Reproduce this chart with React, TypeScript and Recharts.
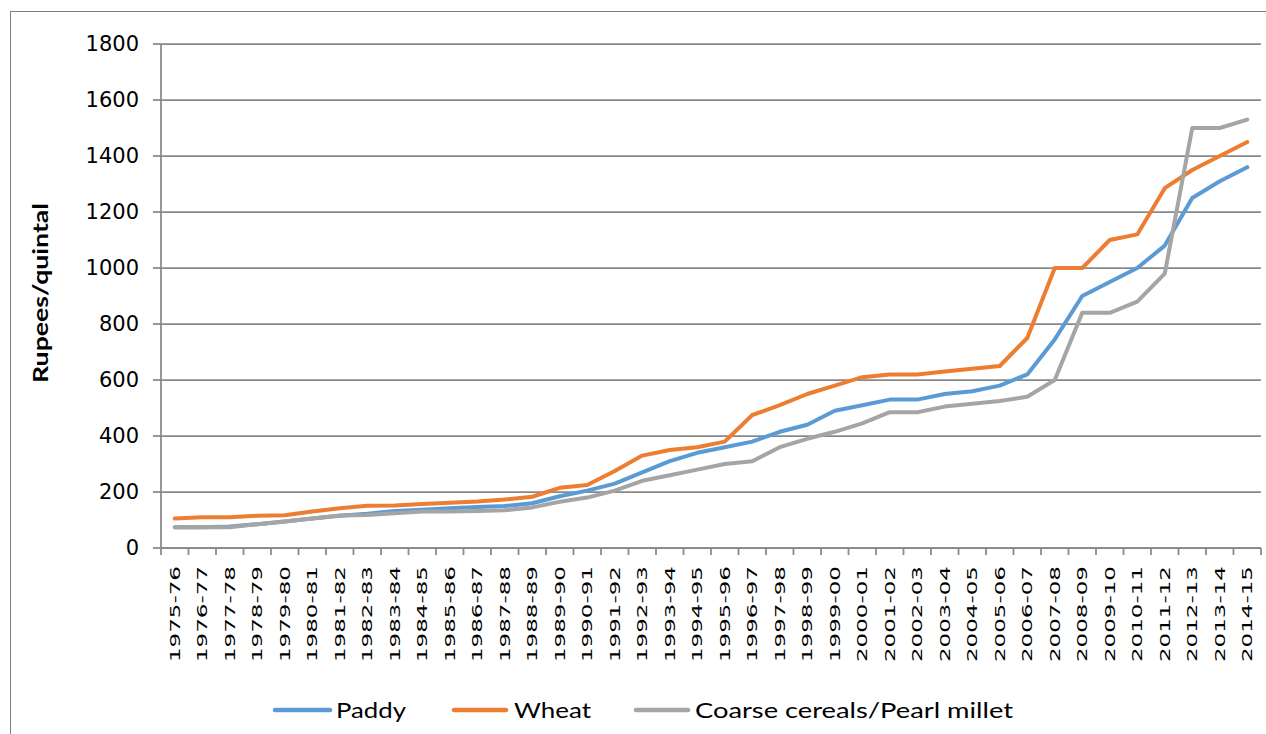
import React from "react";
import { LineChart, Line, XAxis, YAxis, CartesianGrid, Legend } from "recharts";

const categories = [
  "1975-76", "1976-77", "1977-78", "1978-79", "1979-80", "1980-81", "1981-82", "1982-83",
  "1983-84", "1984-85", "1985-86", "1986-87", "1987-88", "1988-89", "1989-90", "1990-91",
  "1991-92", "1992-93", "1993-94", "1994-95", "1995-96", "1996-97", "1997-98", "1998-99",
  "1999-00", "2000-01", "2001-02", "2002-03", "2003-04", "2004-05", "2005-06", "2006-07",
  "2007-08", "2008-09", "2009-10", "2010-11", "2011-12", "2012-13", "2013-14", "2014-15",
];

const paddy = [
  74, 74, 77, 85, 95, 105, 115, 122, 132, 137, 142, 146, 150, 160, 185, 205,
  230, 270, 310, 340, 360, 380, 415, 440, 490, 510, 530, 530, 550, 560, 580, 620,
  745, 900, 950, 1000, 1080, 1250, 1310, 1360,
];

const wheat = [
  105, 110, 110, 115, 117, 130, 142, 151, 152, 157, 162, 166, 173, 183, 215, 225,
  275, 330, 350, 360, 380, 475, 510, 550, 580, 610, 620, 620, 630, 640, 650, 750,
  1000, 1000, 1100, 1120, 1285, 1350, 1400, 1450,
];

const coarse = [
  74, 74, 74, 85, 95, 105, 116, 118, 124, 130, 130, 132, 135, 145, 165, 180,
  205, 240, 260, 280, 300, 310, 360, 390, 415, 445, 485, 485, 505, 515, 525, 540,
  600, 840, 840, 880, 980, 1500, 1500, 1530,
];

const yTicks = [0, 200, 400, 600, 800, 1000, 1200, 1400, 1600, 1800];

const seriesKeys = ["paddy", "wheat", "coarse"];
const seriesNames = ["Paddy", "Wheat", "Coarse cereals/Pearl millet"];
const seriesColors = ["#5B9BD5", "#ED7D31", "#A5A5A5"];

const data = categories.map((c, i) => ({
  year: c,
  paddy: paddy[i],
  wheat: wheat[i],
  coarse: coarse[i],
}));

const GRID = "#888888";

// legend layout (pixel styling only)
const legendLayout = [
  { lineX: 273, lineLen: 59, textX: 336, textLen: 70 },
  { lineX: 452, lineLen: 56, textX: 514, textLen: 77 },
  { lineX: 634, lineLen: 56, textX: 695, textLen: 318 },
];

const XTick = (props: any) => {
  const { x, y, payload, index, width, visibleTicksCount } = props;
  const half =
    payload && typeof payload.offset === "number" && payload.offset > 0
      ? payload.offset
      : width / visibleTicksCount / 2;
  return (
    <g>
      <line x1={x - half} y1={y} x2={x - half} y2={y + 7} stroke={GRID} strokeWidth={1.75} />
      {index === visibleTicksCount - 1 ? (
        <line x1={x + half} y1={y} x2={x + half} y2={y + 7} stroke={GRID} strokeWidth={1.75} />
      ) : null}
      <text
        transform={`translate(${x}, ${y + 18}) rotate(-90)`}
        textAnchor="end"
        dy="0.36em"
        fontFamily="DejaVu Sans"
        fontSize={14.5}
        fill="#000"
        textLength={96}
        lengthAdjust="spacingAndGlyphs"
      >
        {payload.value}
      </text>
    </g>
  );
};

const YTitle = (props: any) => {
  const vb = props.viewBox || { x: 0, y: 44, width: 161, height: 504 };
  const cx = vb.x + 40;
  const cy = vb.y + vb.height / 2 - 3;
  return (
    <text
      transform={`translate(${cx}, ${cy}) rotate(-90)`}
      textAnchor="middle"
      dy="0.36em"
      fontFamily="Lato"
      fontWeight="bold"
      fontSize={21}
      fill="#000"
      textLength={180}
      lengthAdjust="spacingAndGlyphs"
    >
      Rupees/quintal
    </text>
  );
};

const LegendContent = () => (
  <svg width={1266} height={30} style={{ display: "block" }}>
    {seriesNames.map((name, i) => {
      const l = legendLayout[i];
      return (
        <g key={name}>
          <line
            x1={l.lineX + 2}
            y1={15}
            x2={l.lineX + l.lineLen - 2}
            y2={15}
            stroke={seriesColors[i]}
            strokeWidth={4.5}
            strokeLinecap="round"
          />
          <text
            x={l.textX}
            y={15}
            dy="0.36em"
            fontFamily="Lato"
            fontSize={21}
            fill="#000"
            textLength={l.textLen}
            lengthAdjust="spacingAndGlyphs"
          >
            {name}
          </text>
        </g>
      );
    })}
  </svg>
);

export default function App() {
  return (
    <div
      style={{
        position: "absolute",
        left: 0,
        top: 0,
        width: 1266,
        height: 734,
        overflow: "hidden",
        background: "#fff",
      }}
    >
      <div
        style={{
          position: "absolute",
          left: 10,
          top: 11,
          width: 1400,
          height: 900,
          borderLeft: "1.5px solid #7f7f7f",
          borderTop: "1.5px solid #7f7f7f",
        }}
      />
      <div style={{ position: "absolute", left: 0, top: 0 }}>
        <LineChart
          width={1266}
          height={734}
          data={data}
          margin={{ top: 44, right: 5, left: 0, bottom: 26 }}
        >
          <CartesianGrid vertical={false} stroke={GRID} strokeWidth={1.75} />
          <XAxis
            dataKey="year"
            scale="band"
            interval={0}
            height={130}
            tickLine={false}
            tickSize={0}
            tickMargin={0}
            axisLine={{ stroke: GRID, strokeWidth: 1.75 }}
            tick={<XTick />}
          />
          <YAxis
            width={161}
            domain={[0, 1800]}
            ticks={yTicks}
            interval={0}
            tickSize={8}
            tickMargin={14}
            tickLine={{ stroke: GRID, strokeWidth: 1.75 }}
            axisLine={{ stroke: GRID, strokeWidth: 1.75 }}
            tick={{ fontFamily: "DejaVu Sans", fontSize: 21, fill: "#000" }}
            label={(p: any) => <YTitle {...p} />}
          />
          <Legend
            verticalAlign="bottom"
            content={() => <LegendContent />}
            wrapperStyle={{ left: 0, bottom: 9, width: 1266, height: 30 }}
          />
          {seriesKeys.map((k, i) => (
            <Line
              key={k}
              type="linear"
              dataKey={k}
              name={seriesNames[i]}
              stroke={seriesColors[i]}
              strokeWidth={4}
              strokeLinejoin="round"
              strokeLinecap="round"
              dot={false}
              activeDot={false}
              isAnimationActive={false}
            />
          ))}
        </LineChart>
      </div>
    </div>
  );
}
